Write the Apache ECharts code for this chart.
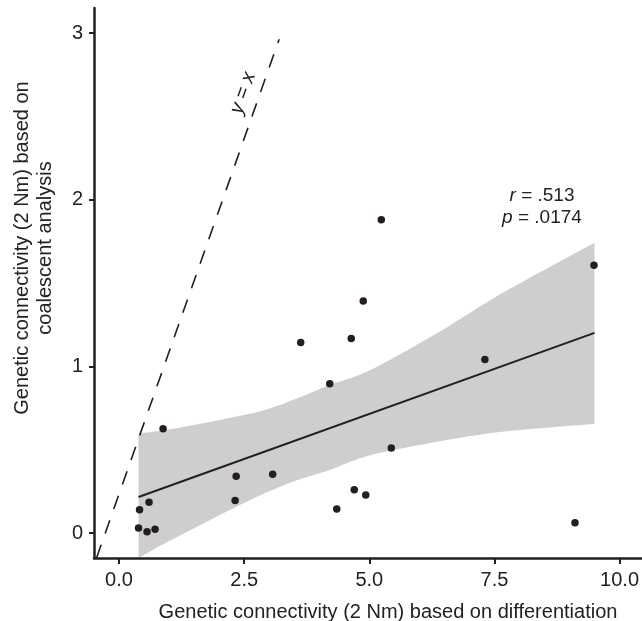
<!DOCTYPE html>
<html>
<head>
<meta charset="utf-8">
<script src="https://cdn.jsdelivr.net/npm/echarts@6/dist/echarts.min.js"></script>
<style>
  html, body { margin: 0; padding: 0; background: #fff; }
  #box { width: 642px; height: 621px; }
</style>
</head>
<body>
<div id="box"></div>
<script>
// points
const pointX = [0.88, 0.41, 0.60, 0.39, 0.56, 0.72, 2.34, 2.32, 3.07, 3.63,
                4.88, 4.64, 4.21, 7.31, 5.44, 4.70, 4.93, 4.35, 9.11, 5.24, 9.49];
const pointY = [0.625, 0.14, 0.184, 0.03, 0.008, 0.022, 0.34, 0.195, 0.352, 1.143,
                1.392, 1.167, 0.895, 1.041, 0.51, 0.26, 0.228, 0.144, 0.062, 1.88, 1.606];

// fitted line ends and confidence band
const fitX = [0.39, 9.5];
const fitY = [0.216, 1.201];
const bandX = [0.39, 0.9, 1.55, 2.2, 2.9, 3.55, 4.2, 5.0, 6.35, 7.65, 9.5];
const bandUpper = [0.597, 0.617, 0.651, 0.69, 0.737, 0.807, 0.887, 0.975, 1.198, 1.438, 1.742];
const bandLower = [-0.15, -0.064, 0.036, 0.136, 0.237, 0.316, 0.377, 0.465, 0.547, 0.607, 0.655];

// the dashed "y = x" reference line as drawn
const refX = [-0.45, 3.2];
const refY = [-0.15, 2.963];

const xTicks = [0, 2.5, 5, 7.5, 10];
const yTicks = [0, 1, 2, 3];

const ink = '#231f20';
const font = "'Liberation Sans', Arial, sans-serif";

// smooth a run of pixel points (catmull-rom) so the band edge is a curve
function smoothPath(pts) {
    let out = [];
    for (let i = 0; i < pts.length - 1; i++) {
        let p0 = pts[Math.max(i - 1, 0)], p1 = pts[i], p2 = pts[i + 1], p3 = pts[Math.min(i + 2, pts.length - 1)];
        for (let s = 0; s < 12; s++) {
            let t = s / 12, t2 = t * t, t3 = t2 * t;
            out.push([0, 1].map(k => 0.5 * (2 * p1[k] + (-p0[k] + p2[k]) * t +
                (2 * p0[k] - 5 * p1[k] + 4 * p2[k] - p3[k]) * t2 +
                (-p0[k] + 3 * p1[k] - 3 * p2[k] + p3[k]) * t3)));
        }
    }
    out.push(pts[pts.length - 1]);
    return out;
}

let myChart = echarts.init(document.getElementById('box'));

let option = {
    animation: false,
    textStyle: { fontFamily: font },
    grid: { left: 94, right: 0, top: 8, bottom: 63 },
    xAxis: {
        type: 'value',
        min: -0.5,
        max: 10.44,
        z: 10,
        splitLine: { show: false },
        axisLine: { onZero: false, lineStyle: { color: ink, width: 2.5 } },
        axisTick: { customValues: xTicks, length: 6, lineStyle: { color: ink, width: 2 } },
        axisLabel: {
            customValues: xTicks,
            margin: 12,
            color: '#222',
            fontSize: 20,
            fontFamily: font,
            formatter: v => v.toFixed(1)
        }
    },
    yAxis: {
        type: 'value',
        min: -0.15,
        max: 3.15,
        z: 10,
        splitLine: { show: false },
        axisLine: { onZero: false, lineStyle: { color: ink, width: 2.5 } },
        axisTick: { customValues: yTicks, length: 5, lineStyle: { color: ink, width: 2 } },
        axisLabel: {
            customValues: yTicks,
            margin: 11,
            color: '#222',
            fontSize: 20,
            fontFamily: font,
            formatter: v => String(Math.round(v))
        }
    },
    series: [
        {
            type: 'custom',
            name: 'band',
            data: [0],
            z: 1,
            silent: true,
            renderItem: function (params, api) {
                let up = smoothPath(bandX.map((x, i) => api.coord([x, bandUpper[i]])));
                let low = smoothPath(bandX.map((x, i) => api.coord([x, bandLower[i]])));
                return {
                    type: 'polygon',
                    shape: { points: up.concat(low.reverse()) },
                    style: { fill: '#cdcecf' }
                };
            }
        },
        {
            type: 'line',
            name: 'ref',
            data: refX.map((x, i) => [x, refY[i]]),
            symbol: 'none',
            z: 2,
            lineStyle: { color: ink, width: 1.6, type: [14, 12] }
        },
        {
            type: 'line',
            name: 'fit',
            data: fitX.map((x, i) => [x, fitY[i]]),
            symbol: 'none',
            z: 3,
            lineStyle: { color: ink, width: 2 }
        },
        {
            type: 'scatter',
            name: 'points',
            data: pointX.map((x, i) => [x, pointY[i]]),
            symbolSize: 7.5,
            z: 4,
            itemStyle: { color: ink, opacity: 1 }
        }
    ],
    graphic: [
        {
            type: 'text', x: 388, y: 612,
            style: {
                text: 'Genetic connectivity (2 Nm) based on differentiation',
                font: '20px ' + font, fill: '#222', align: 'center', verticalAlign: 'middle'
            }
        },
        {
            type: 'text', x: 22, y: 248, rotation: Math.PI / 2,
            style: {
                text: 'Genetic connectivity (2 Nm) based on',
                font: '20px ' + font, fill: '#222', align: 'center', verticalAlign: 'middle'
            }
        },
        {
            type: 'text', x: 45, y: 248, rotation: Math.PI / 2,
            style: {
                text: 'coalescent analysis',
                font: '20px ' + font, fill: '#222', align: 'center', verticalAlign: 'middle'
            }
        },
        {
            type: 'text', x: 542, y: 196,
            style: {
                text: '{i|r} = .513',
                font: '19px ' + font, fill: '#222', align: 'center', verticalAlign: 'middle',
                rich: { i: { fontStyle: 'italic', fontSize: 19, fontFamily: font, fill: '#222' } }
            }
        },
        {
            type: 'text', x: 542, y: 218,
            style: {
                text: '{i|p} = .0174',
                font: '19px ' + font, fill: '#222', align: 'center', verticalAlign: 'middle',
                rich: { i: { fontStyle: 'italic', fontSize: 19, fontFamily: font, fill: '#222' } }
            }
        },
        {
            type: 'text', x: 243, y: 93, rotation: 70.6 * Math.PI / 180,
            style: {
                text: '{i|y} = {i|x}',
                font: '20px ' + font, fill: '#222', align: 'center', verticalAlign: 'middle',
                rich: { i: { fontStyle: 'italic', fontSize: 20, fontFamily: font, fill: '#222' } }
            }
        }
    ]
};
myChart.setOption(option);
</script>
</body>
</html>
